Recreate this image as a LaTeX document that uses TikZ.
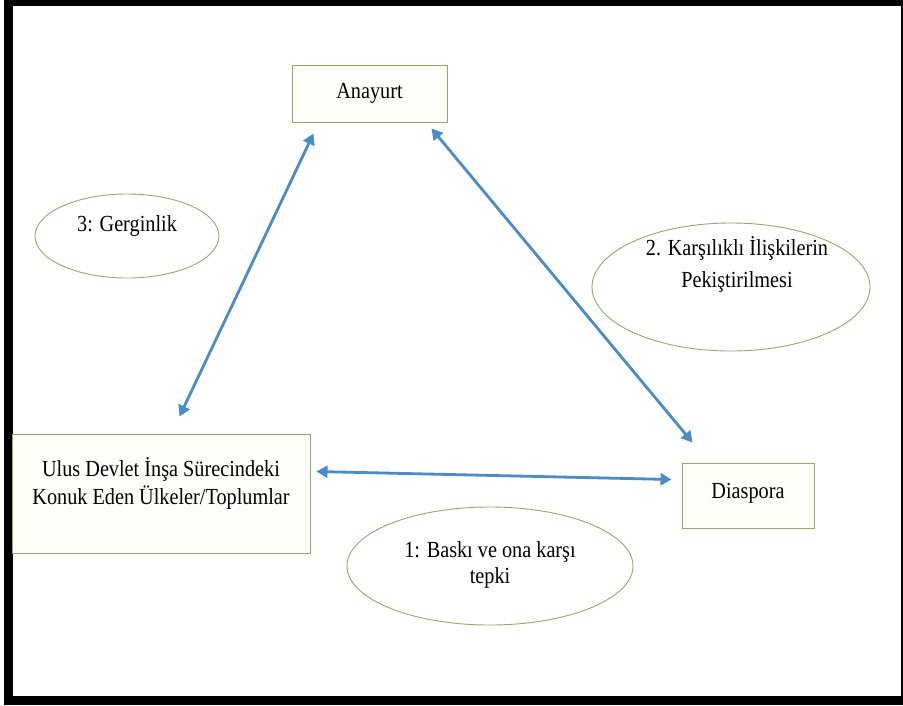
\documentclass[tikz,border=0pt]{standalone}
\usepackage{fontspec}
\setmainfont{Liberation Serif}[FakeStretch=0.88]
\usetikzlibrary{arrows.meta,calc,shapes.geometric}
\definecolor{boxline}{HTML}{96A86E}
\definecolor{boxfill}{HTML}{FDFEF8}
\definecolor{arrowblue}{HTML}{4A8BC9}
\tikzset{
  box/.style={draw=boxline, fill=boxfill, line width=1pt, rectangle, inner sep=0pt},
  oval/.style={draw=boxline, fill=white, line width=0.9pt, ellipse, inner sep=0pt},
  txt/.style={align=center, inner sep=0pt, font=\fontsize{23}{28}\selectfont},
  link/.style={draw=arrowblue, line width=2.8pt,
    {Triangle[length=11pt,width=12pt]}-{Triangle[length=11pt,width=12pt]}},
}
\begin{document}
\begin{tikzpicture}[x=1pt,y=-1pt]
\fill[black] (0,0) rectangle (903,705);
\fill[white] (0,0) rectangle (4,705);
\fill[white] (13,6) rectangle (901,696);
\useasboundingbox (0,0) rectangle (903,705);

% boxes
\node[box, minimum width=155pt, minimum height=57pt] (ana) at (369.5,93.5) {};
\node[txt] (anat) at (369.5,93) {Anayurt};
\node[box, minimum width=298pt, minimum height=119pt] (ulus) at (161,493.5) {};
\node[txt] (ulust) at (161,483) {Ulus Devlet İnşa Sürecindeki\\Konuk Eden Ülkeler/Toplumlar};
\node[box, minimum width=132pt, minimum height=65pt] (dia) at (748,495.5) {};
\node[txt] (diat) at (748,493) {Diaspora};

% ovals
\node[oval, minimum width=184pt, minimum height=84pt] (e3) at (127,236) {};
\node[txt] (e3t) at (127,226) {3: Gerginlik};
\node[oval, minimum width=278pt, minimum height=128pt] (e2) at (731,287) {};
\node[txt, font=\fontsize{23}{32}\selectfont] (e2t) at (737,264) {2. Karşılıklı İlişkilerin\\Pekiştirilmesi};
\node[oval, minimum width=286pt, minimum height=118pt] (e1) at (490,566) {};
\node[txt, font=\fontsize{23}{26}\selectfont] (e1t) at (490,565) {1: Baskı ve ona karşı\\tepki};

% arrow ends
\coordinate (a1) at ($(ana.south west)+(22,11)$);
\coordinate (u1) at ($(ulus.north west)+(168,-17)$);
\coordinate (a2) at ($(ana.south west)+(140,6)$);
\coordinate (d1) at ($(dia.north west)+(11,-20)$);
\coordinate (u2) at ($(ulus.north east)+(6,38)$);
\coordinate (d2) at ($(dia.north west)+(-10,17)$);

\draw[link] (a1) -- (u1);
\draw[link] (a2) -- (d1);
\draw[link] (u2) -- (d2);
\end{tikzpicture}
\end{document}
